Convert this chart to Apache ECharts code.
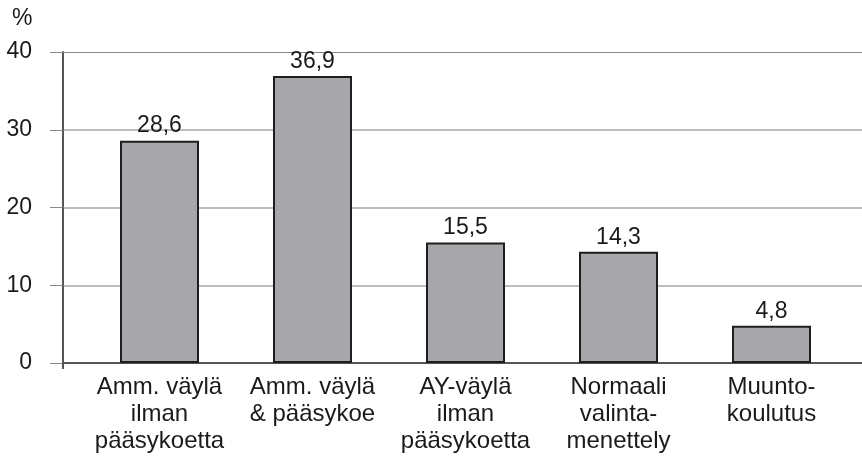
<!DOCTYPE html>
<html>
<head>
<meta charset="utf-8">
<script src="https://cdn.jsdelivr.net/npm/echarts@6/dist/echarts.min.js"></script>
<style>
  html, body { margin: 0; padding: 0; background: #fff; }
  #chart { width: 862px; height: 461px; }
</style>
</head>
<body>
<div id="chart"></div>
<script>
// 数据
const categories = [
  "Amm. väylä\nilman\npääsykoetta",
  "Amm. väylä\n& pääsykoe",
  "AY-väylä\nilman\npääsykoetta",
  "Normaali\nvalinta-\nmenettely",
  "Muunto-\nkoulutus",
];
const values = [28.6, 36.9, 15.5, 14.3, 4.8];
const yTicks = [0, 10, 20, 30, 40];

const fontFamily = "Liberation Sans";
const textColor = "#1a1a1a";

const chart = echarts.init(document.getElementById("chart"));

chart.setOption({
  animation: false,
  textStyle: { fontFamily: fontFamily },
  graphic: [
    {
      type: "text",
      left: 12,
      top: 7,
      style: { text: "%", fontSize: 23, fontFamily: fontFamily, fill: textColor },
    },
  ],
  grid: [
    // 坐标轴和网格线
    { left: 63, right: 0, top: 52, bottom: 98 },
    // 柱子
    { left: 83, right: 14, top: 52, bottom: 98 },
  ],
  xAxis: [
    {
      gridIndex: 0,
      type: "value",
      min: 0,
      max: 1,
      interval: 1,
      axisLine: { show: true, lineStyle: { color: "#555", width: 1 } },
      axisTick: { show: true, customValues: [0], length: 6, lineStyle: { color: "#555", width: 2 } },
      axisLabel: { show: false },
      splitLine: { show: false },
    },
    {
      gridIndex: 0,
      type: "value",
      position: "top",
      min: 0,
      max: 1,
      axisLine: { show: true, lineStyle: { color: "#858585", width: 1 } },
      axisTick: { show: false },
      axisLabel: { show: false },
      splitLine: { show: false },
    },
    {
      gridIndex: 1,
      type: "category",
      data: categories,
      axisLine: { show: false },
      axisTick: { show: false },
      axisLabel: {
        margin: 11,
        fontSize: 24,
        lineHeight: 27,
        color: textColor,
        fontFamily: fontFamily,
        align: "center",
        interval: 0,
      },
    },
  ],
  yAxis: [
    {
      gridIndex: 0,
      type: "value",
      min: yTicks[0],
      max: yTicks[yTicks.length - 1],
      interval: 10,
      axisLine: { show: true, lineStyle: { color: "#555", width: 2 } },
      axisTick: { show: true, length: 13, lineStyle: { color: "#888", width: 1 } },
      axisLabel: { margin: 31, fontSize: 23, color: textColor, fontFamily: fontFamily },
      splitLine: {
        show: true,
        showMaxLine: false,
        lineStyle: { color: ["#555", "#bdbdbd", "#bdbdbd", "#bdbdbd", "#858585"], width: 2 },
      },
    },
    {
      gridIndex: 1,
      type: "value",
      min: yTicks[0],
      max: yTicks[yTicks.length - 1],
      show: false,
    },
  ],
  series: [
    {
      type: "bar",
      xAxisIndex: 2,
      yAxisIndex: 1,
      data: values,
      barWidth: 79,
      itemStyle: {
        color: "#a7a7ab",
        borderColor: "#1e1e1e",
        borderWidth: 2,
      },
      label: {
        show: true,
        position: "top",
        distance: 3,
        fontSize: 23,
        color: textColor,
        fontFamily: fontFamily,
        formatter: (p) => String(p.value).replace(".", ","),
      },
    },
  ],
});
</script>
</body>
</html>
